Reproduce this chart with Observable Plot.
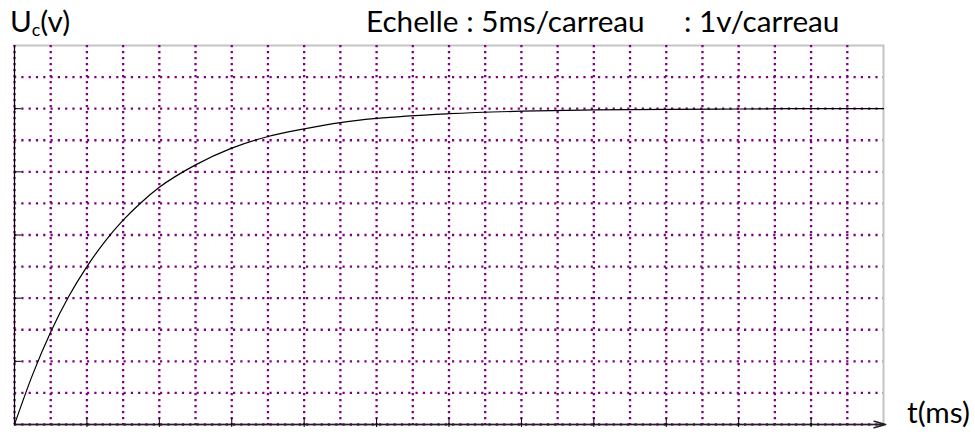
<!DOCTYPE html>
<html>
<head>
<meta charset="utf-8">
<script src="https://cdn.jsdelivr.net/npm/d3@7"></script>
<script src="https://cdn.jsdelivr.net/npm/@observablehq/plot@0.6"></script>
<style>
  html, body { margin: 0; padding: 0; background: #fff; }
  #wrap { position: relative; width: 975px; height: 432px; font-family: "Lato", sans-serif; color: #000; }
  .lbl { position: absolute; white-space: pre; font-size: 29.7px; line-height: 30px; }
  sub { font-size: 0.6em; vertical-align: -0.2em; line-height: 0; }
</style>
</head>
<body>
<div id="wrap">
  <div class="lbl" style="left:10px; top:6px;">U<sub>c</sub>(v)</div>
  <div class="lbl" style="left:366px; top:6px;">Echelle : 5ms/carreau</div>
  <div class="lbl" style="left:684px; top:6px;">: 1v/carreau</div>
  <div class="lbl" style="left:907px; top:397px;">t(ms)</div>
</div>
<script>
const tMs = [0, 2.5, 5, 7.5, 10, 12.5, 15, 17.5, 20, 25, 30, 35, 40, 45, 50, 60, 70, 80, 90, 100, 110, 120];
const uV  = [0, 1.58, 2.93, 4.06, 5.0, 5.8, 6.47, 7.03, 7.51, 8.22, 8.75, 9.12, 9.36, 9.56, 9.69, 9.84, 9.92, 9.96, 9.98, 9.99, 10, 10];
// Quadrillage : 5 ms/carreau, 1 V/carreau
const gridT = [0, 5, 10, 15, 20, 25, 30, 35, 40, 45, 50, 55, 60, 65, 70, 75, 80, 85, 90, 95, 100, 105, 110, 115];
const gridU = [0, 1, 2, 3, 4, 5, 6, 7, 8, 9, 10, 11];
const tickT = [10, 20, 30, 40, 50, 60, 70, 80, 90, 100, 110];
const tickU = [2, 4, 6, 8, 10];
const tMax = 120, uMax = 12;

const data = tMs.map((t, i) => ({t, u: uV[i]}));

const chart = Plot.plot({
  width: 975,
  height: 432,
  marginLeft: 14,
  marginRight: 92,
  marginTop: 45,
  marginBottom: 8,
  x: {domain: [0, tMax], axis: null},
  y: {domain: [0, uMax], axis: null},
  marks: [
    Plot.frame({stroke: "#c4c4c4", strokeWidth: 2}),
    Plot.gridX(gridT, {stroke: "#800080", strokeOpacity: 1, strokeWidth: 2.3, strokeDasharray: "2.2,3.8"}),
    Plot.gridY(gridU, {stroke: "#800080", strokeOpacity: 1, strokeWidth: 2.3, strokeDasharray: "2.2,5.1"}),
    Plot.ruleX([0], {stroke: "#000", strokeWidth: 1}),
    Plot.arrow([{x1: 0, x2: tMax + 0.3, y: 0}], {x1: "x1", x2: "x2", y1: "y", y2: "y", stroke: "#222", strokeWidth: 1.5, headLength: 12, headAngle: 32}),
    Plot.axisX(tickT, {anchor: "bottom", tickSize: 9, dy: -6, tickFormat: () => "", label: null, stroke: "#000"}),
    Plot.axisY(tickU, {anchor: "left", tickSize: 7, dx: 7, tickFormat: () => "", label: null, stroke: "#000"}),
    Plot.line(data, {x: "t", y: "u", curve: "monotone-x", stroke: "#000", strokeWidth: 1.2})
  ]
});
chart.style.position = "absolute";
chart.style.left = "0px";
chart.style.top = "0px";
document.getElementById("wrap").prepend(chart);
</script>
</body>
</html>
